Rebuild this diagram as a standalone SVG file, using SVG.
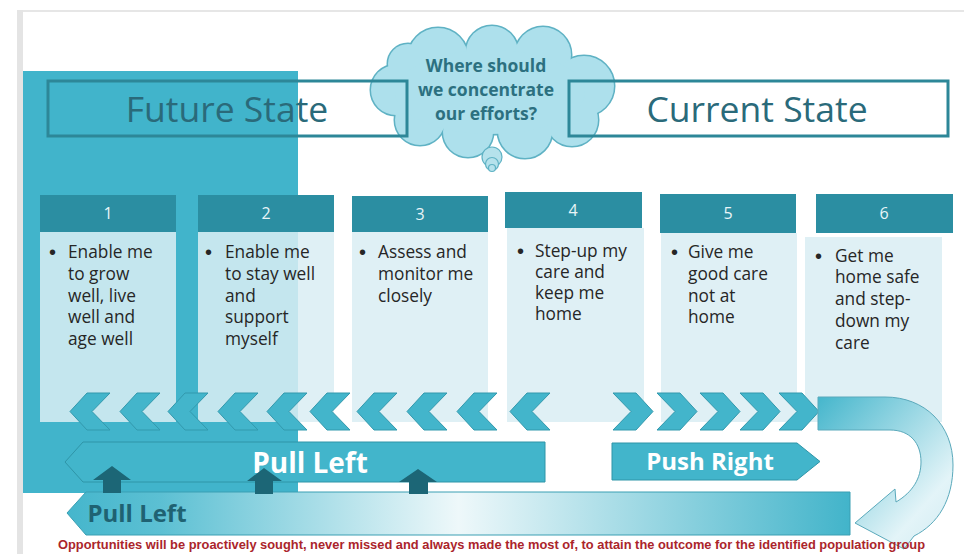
<svg xmlns="http://www.w3.org/2000/svg" width="964" height="554" viewBox="0 0 964 554">
<style>
.hdr{fill:#2b8ea2}
.body{fill:#daeef3;fill-opacity:0.86}
.num{font-family:"Open Sans","Liberation Sans",sans-serif;font-size:16px;fill:#e9f5f8;text-anchor:middle}
.bt{font-family:"Open Sans","Liberation Sans",sans-serif;font-size:17.3px;fill:#262626}
.bul{font-family:"Liberation Sans",sans-serif;font-size:20px;fill:#262626}
.state{font-family:"Open Sans","Liberation Sans",sans-serif;font-size:35.5px;fill:#2a6a7a;text-anchor:middle}
.frame{fill:none;stroke:#2d8798;stroke-width:3}
.cloudt{font-family:"Open Sans","Liberation Sans",sans-serif;font-size:17.5px;font-weight:bold;fill:#2c7080;text-anchor:middle}
.chev{fill:#43b5cb;stroke:#3399ad;stroke-width:1}
.bar{fill:#42b5cb;stroke:#2f95a8;stroke-width:1}
.barw{font-family:"Open Sans","Liberation Sans",sans-serif;font-weight:bold;fill:#ffffff;text-anchor:middle}
.up{fill:#1c6676}
</style>
<defs>
<path id="chL" d="M0 18.5 L17 0 L40 0 L22 18.5 L40 37 L17 37 Z"/>
<path id="chR" d="M0 0 L23 0 L40 18.5 L23 37 L0 37 L18 18.5 Z"/>
<linearGradient id="gLow" x1="0" y1="0" x2="1" y2="0">
<stop offset="0" stop-color="#45b6cc"/>
<stop offset="0.12" stop-color="#5cc0d3"/>
<stop offset="0.5" stop-color="#eef8fa"/>
<stop offset="1" stop-color="#42b4ca"/>
</linearGradient>
<linearGradient id="gU" x1="0" y1="0" x2="1" y2="1">
<stop offset="0" stop-color="#45b6cc"/>
<stop offset="0.75" stop-color="#e3f4f8"/>
<stop offset="1" stop-color="#cfeaf1"/>
</linearGradient>
<g id="cloudShape">
<circle cx="438" cy="58" r="30"/>
<circle cx="492" cy="52" r="26"/>
<circle cx="543" cy="55" r="28"/>
<circle cx="584" cy="86" r="30"/>
<circle cx="572" cy="120" r="26"/>
<circle cx="525" cy="131" r="27"/>
<circle cx="468" cy="132" r="25"/>
<circle cx="420" cy="120" r="25"/>
<circle cx="396" cy="90" r="25"/>
<circle cx="408" cy="64" r="20"/>
<ellipse cx="490" cy="92" rx="95" ry="42"/>
</g>
</defs>

<rect x="0" y="0" width="964" height="554" fill="#ffffff"/>
<rect x="17" y="10" width="947" height="2" fill="#e6e6e6"/>
<rect x="17" y="10" width="6" height="544" fill="#e4e4e4"/>

<rect id="future-bg" x="23" y="71" width="275" height="422" fill="#41b4cb"/>

<g id="cloud">
<use href="#cloudShape" fill="#ade0ec" stroke="#5fb2c4" stroke-width="3"/>
<use href="#cloudShape" fill="#ade0ec"/>
<circle cx="492" cy="157" r="10" fill="#b5e2ec" stroke="#5fb2c4" stroke-width="1.2"/>
<circle cx="492" cy="164" r="6.5" fill="#b5e2ec" stroke="#5fb2c4" stroke-width="1.2"/>
<circle cx="492" cy="168" r="3.5" fill="#b5e2ec" stroke="#5fb2c4" stroke-width="1.2"/>
<text class="cloudt" x="486" y="72">Where should</text>
<text class="cloudt" x="486" y="96">we concentrate</text>
<text class="cloudt" x="486" y="120">our efforts?</text>
</g>

<g id="future-state">
<rect class="frame" x="48" y="81" width="359" height="55"/>
<text class="state" x="227" y="122">Future State</text>
</g>
<g id="current-state">
<rect class="frame" x="569" y="81" width="379" height="55"/>
<text class="state" x="757" y="122">Current State</text>
</g>

<g id="col1">
<rect class="hdr" x="40" y="195" width="136" height="37"/>
<text class="num" x="108" y="219">1</text>
<rect class="body" x="40" y="232" width="136" height="190"/>
<text class="bul" x="49" y="259">•</text>
<text class="bt"><tspan x="68" y="258">Enable me</tspan><tspan x="68" y="280">to grow</tspan><tspan x="68" y="302">well, live</tspan><tspan x="68" y="323">well and</tspan><tspan x="68" y="345">age well</tspan></text>
</g>
<g id="col2">
<rect class="hdr" x="198" y="195" width="136" height="37"/>
<text class="num" x="266" y="219">2</text>
<rect class="body" x="198" y="232" width="136" height="190"/>
<text class="bul" x="205" y="259">•</text>
<text class="bt"><tspan x="225" y="258">Enable me</tspan><tspan x="225" y="280">to stay well</tspan><tspan x="225" y="302">and</tspan><tspan x="225" y="323">support</tspan><tspan x="225" y="345">myself</tspan></text>
</g>
<g id="col3">
<rect class="hdr" x="352" y="196" width="136" height="36"/>
<text class="num" x="420" y="220">3</text>
<rect class="body" x="352" y="232" width="136" height="190"/>
<text class="bul" x="359" y="259">•</text>
<text class="bt"><tspan x="378" y="258">Assess and</tspan><tspan x="378" y="280">monitor me</tspan><tspan x="378" y="302">closely</tspan></text>
</g>
<g id="col4">
<rect class="hdr" x="505" y="192" width="137" height="36"/>
<text class="num" x="573" y="216">4</text>
<rect class="body" x="507" y="228" width="137" height="194"/>
<text class="bul" x="517" y="258">•</text>
<text class="bt"><tspan x="535" y="257">Step-up my</tspan><tspan x="535" y="278">care and</tspan><tspan x="535" y="299">keep me</tspan><tspan x="535" y="320">home</tspan></text>
</g>
<g id="col5">
<rect class="hdr" x="660" y="194" width="136" height="39"/>
<text class="num" x="728" y="219">5</text>
<rect class="body" x="661" y="233" width="136" height="189"/>
<text class="bul" x="671" y="259">•</text>
<text class="bt"><tspan x="688" y="258">Give me</tspan><tspan x="688" y="280">good care</tspan><tspan x="688" y="302">not at</tspan><tspan x="688" y="323">home</tspan></text>
</g>
<g id="col6">
<rect class="hdr" x="816" y="194" width="137" height="39"/>
<text class="num" x="884" y="219">6</text>
<rect class="body" x="805" y="237" width="137" height="185"/>
<text class="bul" x="815" y="263">•</text>
<text class="bt"><tspan x="835" y="262">Get me</tspan><tspan x="835" y="283">home safe</tspan><tspan x="835" y="305">and step-</tspan><tspan x="835" y="327">down my</tspan><tspan x="835" y="349">care</tspan></text>
</g>

<g id="connectors">
<g id="chevrons-left" class="chev">
<use href="#chL" x="70" y="393"/>
<use href="#chL" x="120" y="393"/>
<use href="#chL" x="168" y="393"/>
<use href="#chL" x="218" y="393"/>
<use href="#chL" x="267" y="393"/>
<use href="#chL" x="310" y="393"/>
<use href="#chL" x="357" y="393"/>
<use href="#chL" x="407" y="393"/>
<use href="#chL" x="457" y="393"/>
<use href="#chL" x="510" y="393"/>
</g>
<g id="chevrons-right" class="chev">
<use href="#chR" x="613" y="393"/>
<use href="#chR" x="657" y="393"/>
<use href="#chR" x="700" y="393"/>
<use href="#chR" x="740" y="393"/>
<use href="#chR" x="779" y="393"/>
</g>
<path id="uturn" d="M818 397 L885 397 C925 397 953 425 953 465 C953 500 938 524 914 536 L904 549 L855 523 L895 489 L896 502 C913 492 921 478 921 462 C921 443 910 430 890 430 L818 430 Z" fill="url(#gU)" stroke="#5aa9bb" stroke-width="1"/>
</g>

<g id="pull-left-upper">
<path class="bar" d="M65 462 L83 442 L545 442 L545 482 L83 482 Z"/>
<text class="barw" x="310" y="473" font-size="28">Pull Left</text>
</g>
<g id="push-right">
<path class="bar" d="M612 443 L797 443 L820 461.5 L797 480 L612 480 Z"/>
<text class="barw" x="710" y="470" font-size="24">Push Right</text>
</g>
<g id="pull-left-lower">
<path d="M67 513 L86 492 L850 492 L850 535 L86 535 Z" fill="url(#gLow)" stroke="#3a9fb3" stroke-width="1"/>
<text x="137" y="522" font-family="'Open Sans','Liberation Sans',sans-serif" font-size="24" font-weight="bold" fill="#1f6272" text-anchor="middle">Pull Left</text>
</g>
<g id="up-arrows">
<path class="up" d="M112 466 L131 480 L121 480 L121 493 L103 493 L103 480 L93 480 Z"/>
<path class="up" d="M264 468 L282 481 L273 481 L273 494 L255 494 L255 481 L247 481 Z"/>
<path class="up" d="M418 469 L437 482 L428 482 L428 494 L409 494 L409 482 L399 482 Z"/>
</g>

<text id="footnote" x="58" y="549" textLength="867" lengthAdjust="spacingAndGlyphs" font-family="'Liberation Sans',sans-serif" font-size="12.5" font-weight="bold" fill="#ab252b">Opportunities will be proactively sought, never missed and always made the most of, to attain the outcome for the identified population group</text>
</svg>
